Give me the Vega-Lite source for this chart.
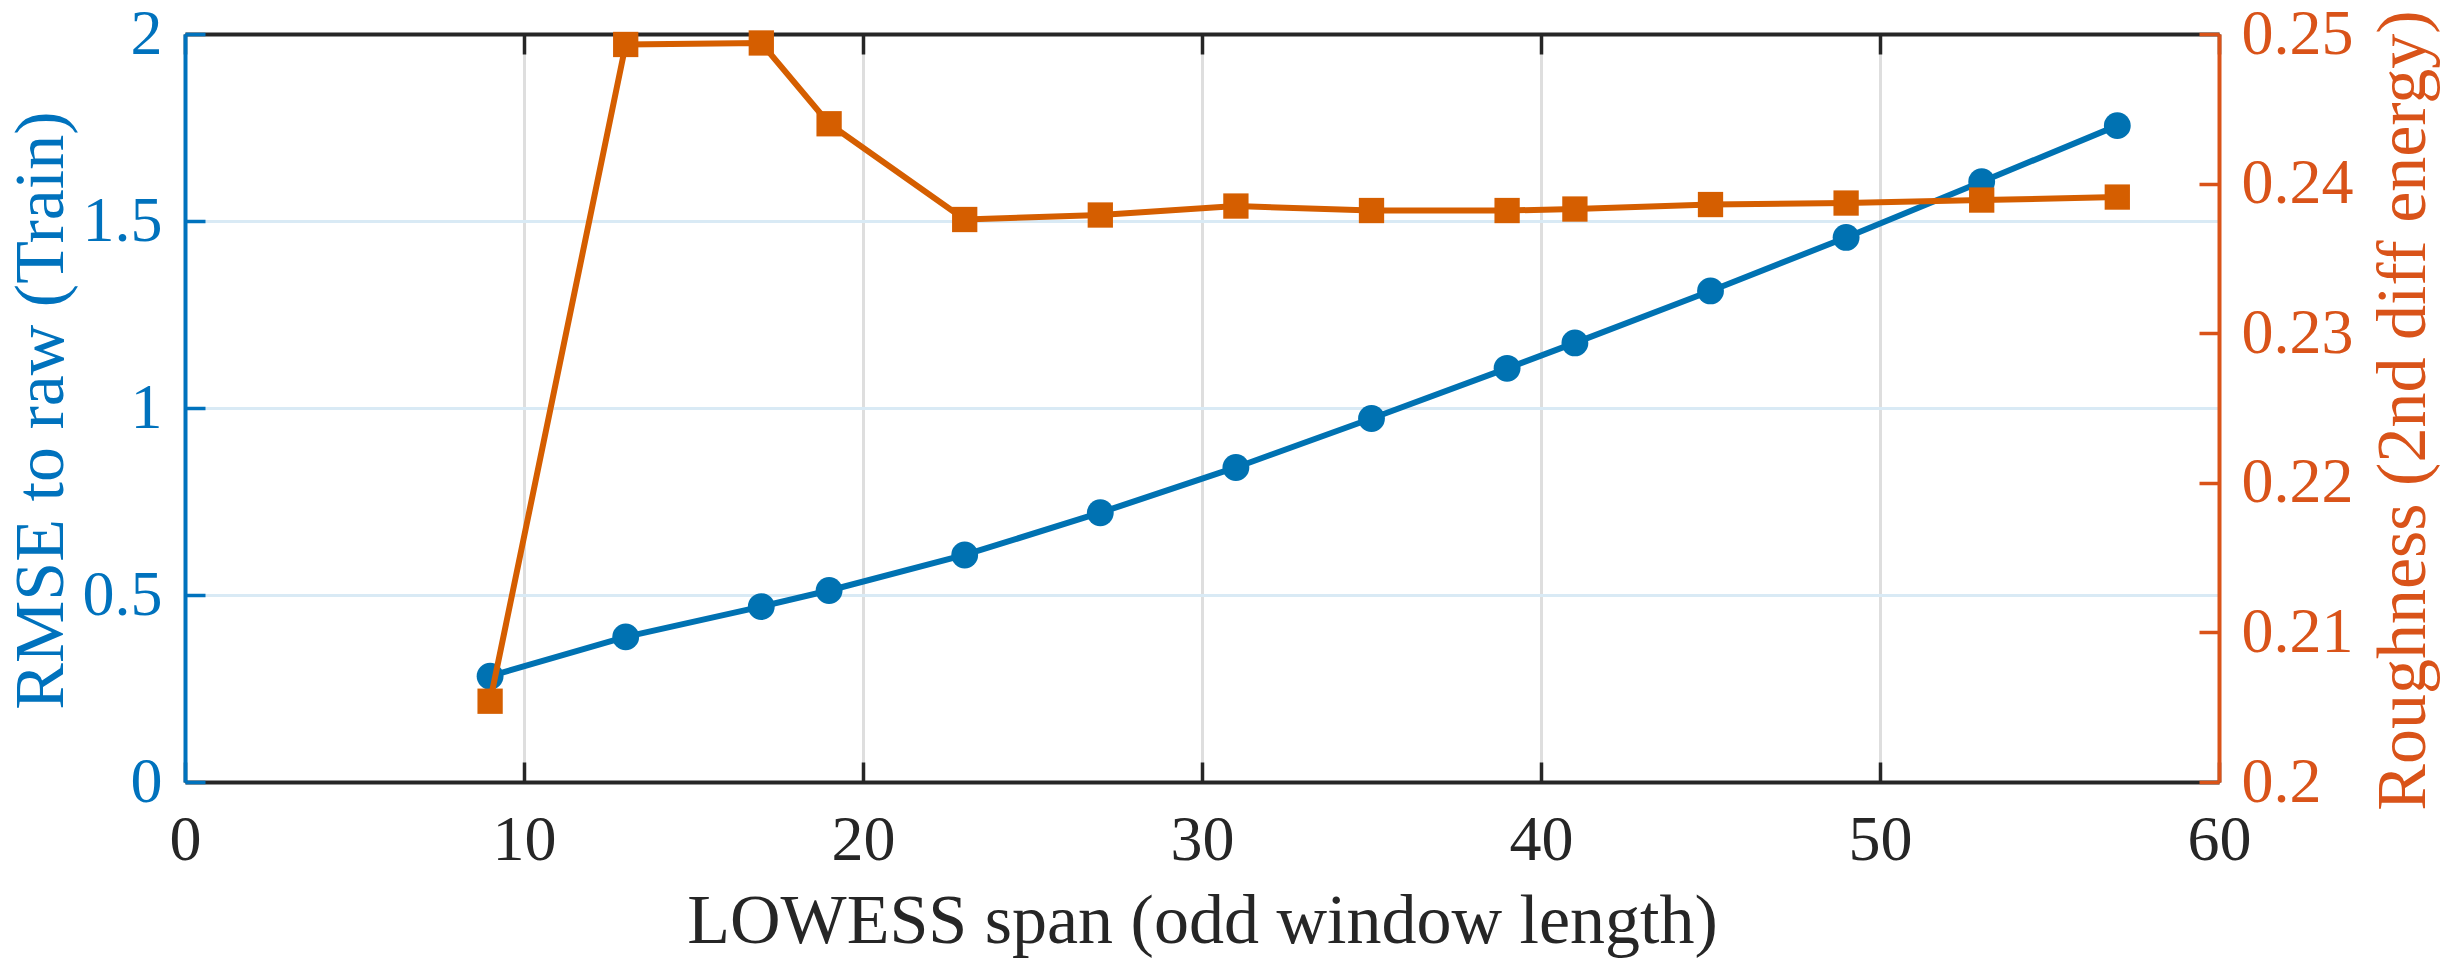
{
  "$schema": "https://vega.github.io/schema/vega-lite/v6.json",
  "width": 2034,
  "height": 748,
  "autosize": {"type": "none"},
  "padding": {"left": 185, "top": 34, "right": 232, "bottom": 186},
  "background": "white",
  "config": {"font": "Liberation Serif", "view": {"stroke": null}},
  "data": {
    "values": [
      {"span": 9, "rmse": 0.283, "rough": 0.2054},
      {"span": 13, "rmse": 0.388, "rough": 0.2493},
      {"span": 17, "rmse": 0.469, "rough": 0.2494},
      {"span": 19, "rmse": 0.512, "rough": 0.2440},
      {"span": 23, "rmse": 0.607, "rough": 0.2376},
      {"span": 27, "rmse": 0.720, "rough": 0.2379},
      {"span": 31, "rmse": 0.841, "rough": 0.2385},
      {"span": 35, "rmse": 0.972, "rough": 0.2382},
      {"span": 39, "rmse": 1.106, "rough": 0.2382},
      {"span": 41, "rmse": 1.174, "rough": 0.2383},
      {"span": 45, "rmse": 1.313, "rough": 0.2386},
      {"span": 49, "rmse": 1.456, "rough": 0.2387},
      {"span": 53, "rmse": 1.605, "rough": 0.2389},
      {"span": 57, "rmse": 1.755, "rough": 0.2391}
    ]
  },
  "resolve": {"scale": {"y": "independent"}, "axis": {"x": "independent"}},
  "layer": [
    {
      "mark": {
        "type": "line",
        "color": "#0072B2",
        "strokeWidth": 6,
        "point": {"shape": "circle", "size": 720, "filled": true, "color": "#0072B2", "opacity": 1}
      },
      "encoding": {
        "x": {
          "field": "span",
          "type": "quantitative",
          "scale": {"domain": [0, 60], "nice": false},
          "axis": {
            "orient": "bottom",
            "values": [0, 10, 20, 30, 40, 50, 60],
            "tickSize": -20,
            "tickWidth": 3.5,
            "tickColor": "#262626",
            "domainColor": "#262626",
            "domainWidth": 4,
            "labelFont": "Liberation Serif",
            "labelFontSize": 64,
            "labelColor": "#262626",
            "labelPadding": 46,
            "labelFlush": false,
            "labelOverlap": false,
            "grid": true,
            "gridColor": "#dedede",
            "gridWidth": 3,
            "title": "LOWESS span (odd window length)",
            "titleFont": "Liberation Serif",
            "titleFontSize": 70,
            "titleFontWeight": "normal",
            "titleColor": "#262626",
            "titleX": 1017,
            "titleY": 160,
            "titleAlign": "center",
            "titleBaseline": "alphabetic"
          }
        },
        "y": {
          "field": "rmse",
          "type": "quantitative",
          "scale": {"domain": [0, 2], "nice": false, "zero": false},
          "axis": {
            "orient": "left",
            "values": [0, 0.5, 1, 1.5, 2],
            "format": "~g",
            "tickSize": -20,
            "tickWidth": 3.5,
            "tickColor": "#0072BD",
            "domainColor": "#0072BD",
            "domainWidth": 4,
            "labelFont": "Liberation Serif",
            "labelFontSize": 64,
            "labelColor": "#0072BD",
            "labelPadding": 43,
            "labelFlush": false,
            "labelOverlap": false,
            "grid": true,
            "gridColor": "#d9eaf5",
            "gridWidth": 3,
            "title": "RMSE to raw (Train)",
            "titleFont": "Liberation Serif",
            "titleFontSize": 70,
            "titleFontWeight": "normal",
            "titleColor": "#0072BD",
            "titleAngle": 270,
            "titleX": -123,
            "titleY": 376,
            "titleAlign": "center",
            "titleBaseline": "alphabetic"
          }
        }
      }
    },
    {
      "mark": {
        "type": "line",
        "color": "#D55E00",
        "strokeWidth": 6,
        "point": {"shape": "square", "size": 640, "filled": true, "color": "#D55E00", "opacity": 1}
      },
      "encoding": {
        "x": {
          "field": "span",
          "type": "quantitative",
          "scale": {"domain": [0, 60], "nice": false},
          "axis": {
            "orient": "top",
            "values": [0, 10, 20, 30, 40, 50, 60],
            "labels": false,
            "tickSize": -20,
            "tickWidth": 3.5,
            "tickColor": "#262626",
            "domainColor": "#262626",
            "domainWidth": 4,
            "grid": false,
            "title": null
          }
        },
        "y": {
          "field": "rough",
          "type": "quantitative",
          "scale": {"domain": [0.2, 0.25], "nice": false, "zero": false},
          "axis": {
            "orient": "right",
            "values": [0.2, 0.21, 0.22, 0.23, 0.24, 0.25],
            "format": "~g",
            "tickSize": -20,
            "tickWidth": 3.5,
            "tickColor": "#D95319",
            "domainColor": "#D95319",
            "domainWidth": 4,
            "labelFont": "Liberation Serif",
            "labelFontSize": 64,
            "labelColor": "#D95319",
            "labelPadding": 42,
            "labelFlush": false,
            "labelOverlap": false,
            "grid": false,
            "title": "Roughness (2nd diff energy)",
            "titleFont": "Liberation Serif",
            "titleFontSize": 70,
            "titleFontWeight": "normal",
            "titleColor": "#D95319",
            "titleAngle": 270,
            "titleX": 205,
            "titleY": 376,
            "titleAlign": "center",
            "titleBaseline": "alphabetic"
          }
        }
      }
    }
  ]
}
